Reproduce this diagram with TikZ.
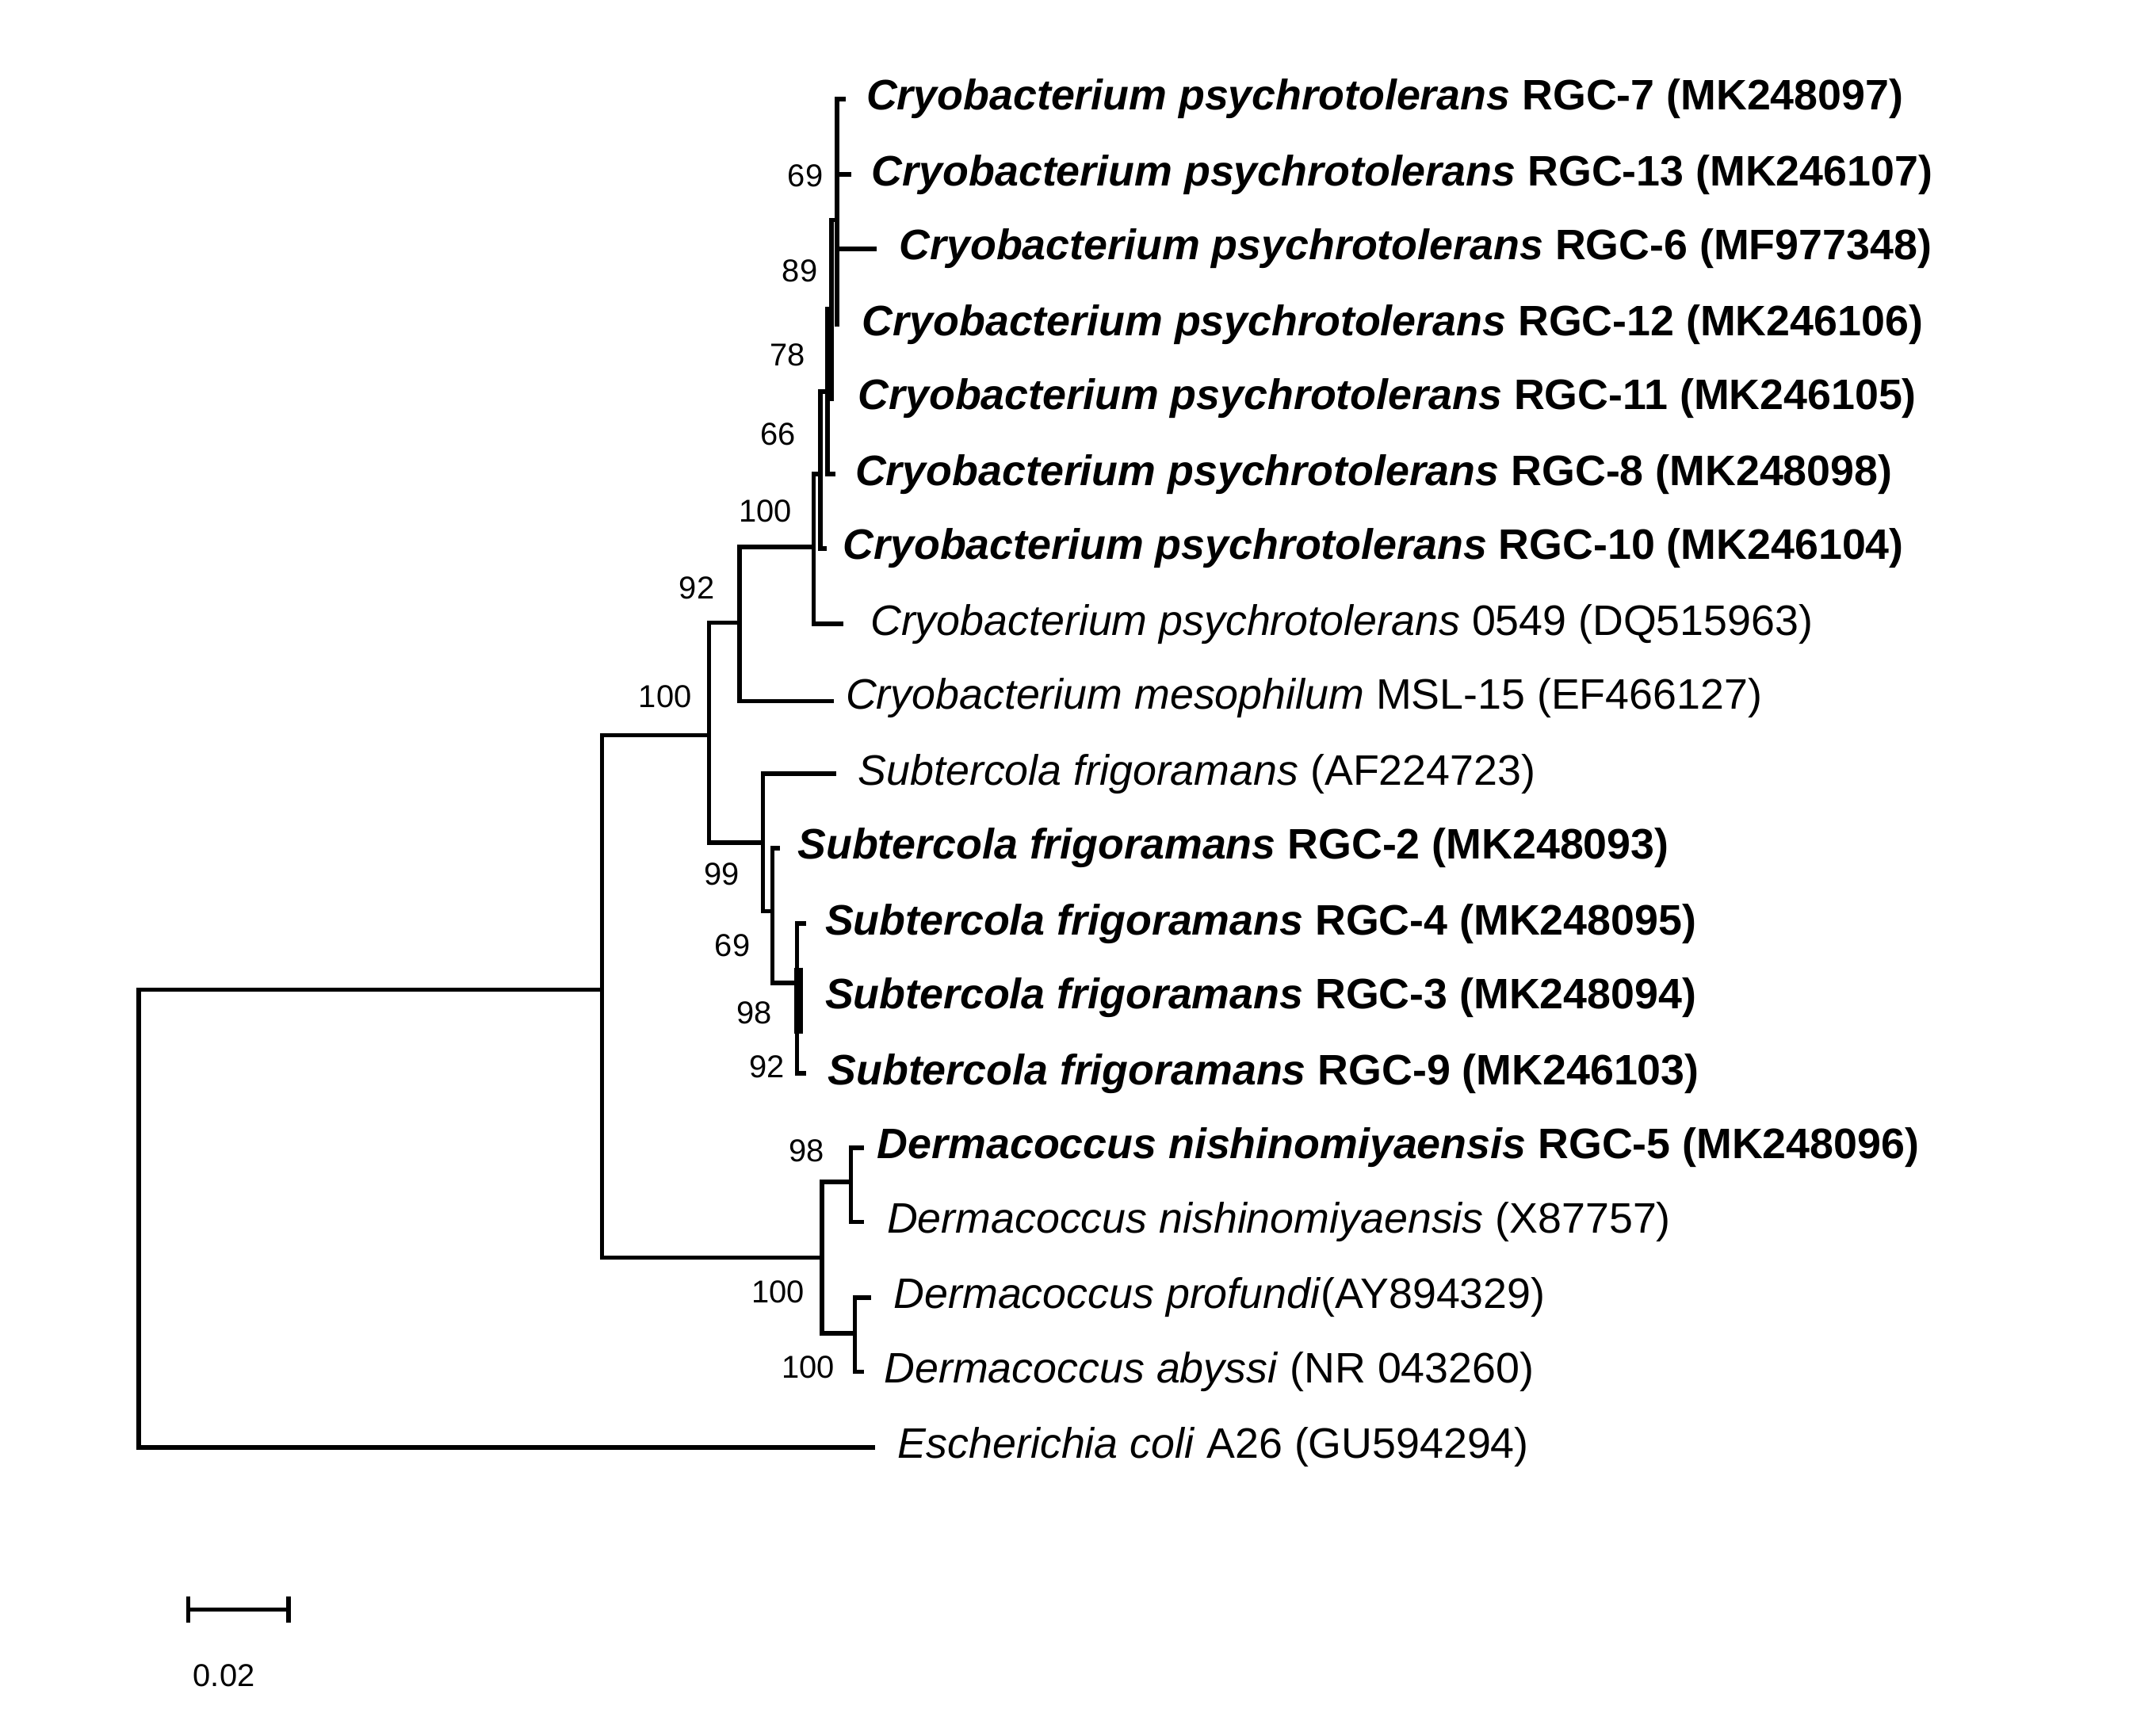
\documentclass[tikz,border=0pt]{standalone}
\usepackage{fontspec}
\setmainfont{Liberation Sans}
\begin{document}
\begin{tikzpicture}[x=0.5pt,y=-0.5pt,
  br/.style={line width=1.6pt,line cap=rect},
  lf/.style={anchor=west,inner sep=0pt,font=\fontsize{15.5}{18}\selectfont},
  bs/.style={inner sep=0pt,font=\fontsize{11.5}{13}\selectfont}]
\useasboundingbox[fill=white] (0,0) rectangle (1552,1263);
% leaf labels
\node[lf] (l1) at (630,72) {\textbf{\textit{Cryobacterium psychrotolerans} RGC-7 (MK248097)}};
\node[lf] (l2) at (634,127) {\textbf{\textit{Cryobacterium psychrotolerans} RGC-13 (MK246107)}};
\node[lf] (l3) at (654,181) {\textbf{\textit{Cryobacterium psychrotolerans} RGC-6 (MF977348)}};
\node[lf] (l4) at (627,236) {\textbf{\textit{Cryobacterium psychrotolerans} RGC-12 (MK246106)}};
\node[lf] (l5) at (624,290) {\textbf{\textit{Cryobacterium psychrotolerans} RGC-11 (MK246105)}};
\node[lf] (l6) at (622,345) {\textbf{\textit{Cryobacterium psychrotolerans} RGC-8 (MK248098)}};
\node[lf] (l7) at (613,399) {\textbf{\textit{Cryobacterium psychrotolerans} RGC-10 (MK246104)}};
\node[lf] (l8) at (633,454) {\textit{Cryobacterium psychrotolerans} 0549 (DQ515963)};
\node[lf] (l9) at (615,508) {\textit{Cryobacterium mesophilum} MSL-15 (EF466127)};
\node[lf] (l10) at (624,563) {\textit{Subtercola frigoramans} (AF224723)};
\node[lf] (l11) at (580,617) {\textbf{\textit{Subtercola frigoramans} RGC-2 (MK248093)}};
\node[lf] (l12) at (600,672) {\textbf{\textit{Subtercola frigoramans} RGC-4 (MK248095)}};
\node[lf] (l13) at (600,726) {\textbf{\textit{Subtercola frigoramans} RGC-3 (MK248094)}};
\node[lf] (l14) at (602,781) {\textbf{\textit{Subtercola frigoramans} RGC-9 (MK246103)}};
\node[lf] (l15) at (638,835) {\textbf{\textit{Dermacoccus nishinomiyaensis} RGC-5 (MK248096)}};
\node[lf] (l16) at (645,889) {\textit{Dermacoccus nishinomiyaensis} (X87757)};
\node[lf] (l17) at (650,944) {\textit{Dermacoccus profundi}(AY894329)};
\node[lf] (l18) at (643,998) {\textit{Dermacoccus abyssi} (NR 043260)};
\node[lf] (l19) at (653,1053) {\textit{Escherichia coli} A26 (GU594294)};
% branches
\draw[br] (635,1053) -| (101,720) -| (438,535) -| (516,453) -| (538,398) -| (592,345) -| (597,285) -| (602,225) -| (605,160) -| (609,72) -- (614,72);
\draw[br] (609,127) -- (618,127);
\draw[br] (609,181) -- (636,181);
\draw[br] (609,236) -- (609,160);
\draw[br] (605,160) -- (605,290);
\draw[br] (602,225) -- (602,345) -- (606,345);
\draw[br] (597,285) -- (597,399) -- (600,399);
\draw[br] (592,345) -- (592,454) -- (612,454);
\draw[br] (538,398) -- (538,510) -- (605,510);
\draw[br] (516,453) -- (516,613) -- (555,613);
\draw[br] (607,563) -| (555,663) -- (562,663);
\draw[br] (566,617) -| (562,715) -- (580,715);
\draw[br] (585,672) -| (580,781) -- (585,781);
\draw[line width=3pt] (581,704) -- (581,752);
\draw[br] (438,535) -- (438,915) -- (598,915);
\draw[br] (598,860) -- (598,970);
\draw[br] (598,860) -- (619,860);
\draw[br] (627,835) -| (619,889) -- (627,889);
\draw[br] (598,970) -- (622,970);
\draw[br] (632,944) -| (622,998) -- (627,998);
% bootstrap
\node[bs] (b1) at (586,128) {69};
\node[bs] (b2) at (582,197) {89};
\node[bs] (b3) at (573,258) {78};
\node[bs] (b4) at (566,316) {66};
\node[bs] (b5) at (557,372) {100};
\node[bs] (b6) at (507,428) {92};
\node[bs] (b7) at (484,507) {100};
\node[bs] (b8) at (525,636) {99};
\node[bs] (b9) at (533,688) {69};
\node[bs] (b10) at (549,737) {98};
\node[bs] (b11) at (558,776) {92};
\node[bs] (b12) at (587,837) {98};
\node[bs] (b13) at (566,940) {100};
\node[bs] (b14) at (588,995) {100};
% scale bar
\coordinate (s1) at (137,1171);
\coordinate (s2) at (210,1171);
\draw[br] (s1) -- (s2);
\draw[br] ([yshift=-8*0.5pt]s1) -- ([yshift=8*0.5pt]s1);
\draw[br] ([yshift=-8*0.5pt]s2) -- ([yshift=8*0.5pt]s2);
\node[bs] (sl) at (163,1219) {0.02};
\end{tikzpicture}
\end{document}
